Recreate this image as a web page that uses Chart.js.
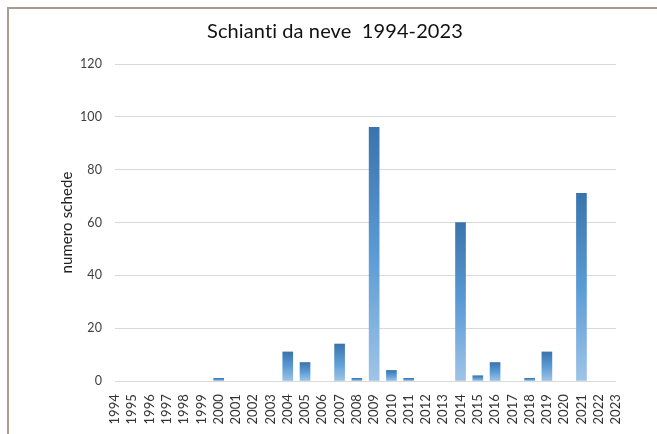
<!DOCTYPE html>
<html>
<head>
<meta charset="utf-8">
<script src="https://cdn.jsdelivr.net/npm/chart.js@4.4.1/dist/chart.umd.min.js"></script>
<style>
html,body{margin:0;padding:0;background:#fff;overflow:hidden;}
#wrap{position:relative;width:657px;height:434px;}
#frame{position:absolute;left:7px;top:7px;width:700px;height:500px;border-left:2px solid #a99b8d;border-top:2px solid #a99b8d;pointer-events:none;}
canvas{position:absolute;left:0;top:0;}
</style>
</head>
<body>
<div id="wrap">
<canvas id="c" width="657" height="434"></canvas>
<div id="frame"></div>
</div>
<script>
const years = ['1994','1995','1996','1997','1998','1999','2000','2001','2002','2003','2004','2005','2006','2007','2008','2009','2010','2011','2012','2013','2014','2015','2016','2017','2018','2019','2020','2021','2022','2023'];
const schede = [0,0,0,0,0,0,1,0,0,0,11,7,0,14,1,96,4,1,0,0,60,2,7,0,1,11,0,71,0,0];
const chartTitle = 'Schianti da neve  1994-2023';
const yTitle = 'numero schede';
const yMin = 0, yMax = 120, yStep = 20;

const FONT = 'Lato, "Open Sans", sans-serif';

function barGradient(ctx){
  const chart = ctx.chart;
  if (ctx.type !== 'data' || !chart.chartArea) return 'rgba(0,0,0,0)';
  const v = ctx.raw;
  const ys = chart.scales.y;
  const top = ys.getPixelForValue(v), bot = ys.getPixelForValue(0);
  if (!(bot - top > 0.5)) return 'rgba(0,0,0,0)';
  const g = chart.ctx.createLinearGradient(0, top, 0, bot);
  g.addColorStop(0, '#3a74ac');
  g.addColorStop(0.5, '#5b9bd5');
  g.addColorStop(1, '#9fc4e7');
  return g;
}

const noLigatures = {
  id: 'noLigatures',
  beforeDraw(chart){
    try {
      chart.ctx.textRendering = 'optimizeSpeed';
      chart.ctx.letterSpacing = '0.1px';
    } catch(e) {}
  }
};

new Chart(document.getElementById('c'), {
  type: 'bar',
  plugins: [noLigatures],
  data: {
    labels: years,
    datasets: [{
      data: schede,
      backgroundColor: barGradient,
      borderWidth: 0,
      barThickness: 10
    }]
  },
  options: {
    responsive: false,
    animation: false,
    devicePixelRatio: 1,
    layout: { padding: { left: 54, right: 41, top: 0, bottom: 0 } },
    plugins: {
      legend: { display: false },
      tooltip: { enabled: false },
      title: {
        display: true,
        text: chartTitle,
        color: '#111',
        font: { family: FONT, size: 20, weight: 'normal' },
        padding: { top: 20, bottom: 20 }
      }
    },
    scales: {
      x: {
        offset: false,
        grid: { display: false },
        border: { display: false },
        ticks: {
          autoSkip: false,
          maxRotation: 90,
          minRotation: 90,
          padding: 5,
          color: '#333',
          font: { family: FONT, size: 13 }
        },
        afterFit: (s) => { s.height = 53; }
      },
      y: {
        min: yMin,
        max: yMax,
        ticks: {
          stepSize: yStep,
          padding: 13,
          color: '#404040',
          font: { family: FONT, size: 12.5 }
        },
        grid: { color: '#d9d9d9', lineWidth: 1, drawTicks: false },
        border: { display: false },
        title: {
          display: true,
          text: yTitle,
          color: '#222',
          font: { family: FONT, size: 15 },
          padding: { top: 4, bottom: 0 }
        },
        afterFit: (s) => { s.width = 61; }
      }
    }
  }
});
</script>
</body>
</html>
